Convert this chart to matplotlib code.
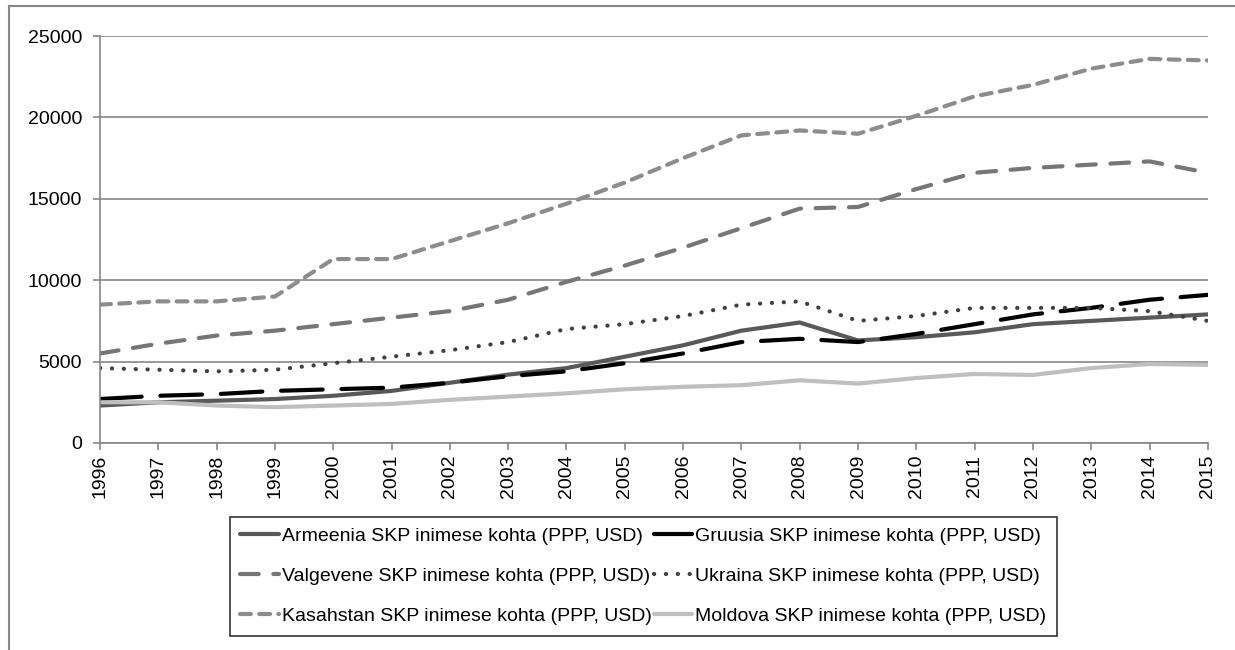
import matplotlib.pyplot as plt
from matplotlib.lines import Line2D

years = list(range(1996, 2016))

armeenia = [2300, 2500, 2600, 2700, 2900, 3200, 3700, 4200, 4600, 5300,
            6000, 6900, 7400, 6300, 6500, 6800, 7300, 7500, 7700, 7900]
gruusia = [2700, 2900, 3000, 3200, 3300, 3400, 3700, 4100, 4400, 4900,
           5500, 6200, 6400, 6200, 6700, 7300, 7900, 8300, 8800, 9100]
valgevene = [5500, 6100, 6600, 6900, 7300, 7700, 8100, 8800, 9900, 10900,
             12000, 13200, 14400, 14500, 15600, 16600, 16900, 17100, 17300, 16600]
ukraina = [4600, 4500, 4400, 4500, 4900, 5300, 5700, 6200, 7000, 7300,
           7800, 8500, 8700, 7500, 7800, 8300, 8300, 8300, 8100, 7500]
kasahstan = [8500, 8700, 8700, 9000, 11300, 11300, 12400, 13500, 14700, 16000,
             17500, 18900, 19200, 19000, 20100, 21300, 22000, 23000, 23600, 23500]
moldova = [2500, 2500, 2300, 2200, 2300, 2400, 2650, 2850, 3050, 3300,
           3450, 3550, 3850, 3650, 3990, 4240, 4180, 4600, 4850, 4800]

suffix = " SKP inimese kohta (PPP, USD)"

plt.rcParams['font.family'] = ['Liberation Sans', 'DejaVu Sans']
fs = 14

fig = plt.figure(figsize=(12.35, 6.5), dpi=100)
ax = fig.add_axes([0.081, 0.3185, 0.897, 0.626])

lw = 3
l_arm, = ax.plot(years, armeenia, color='#595959', lw=lw, solid_capstyle='round',
                 label='Armeenia' + suffix)
l_gru, = ax.plot(years, gruusia, color='black', lw=lw, dashes=(10, 4.5),
                 dash_capstyle='round', label='Gruusia' + suffix)
l_val, = ax.plot(years, valgevene, color='#767676', lw=lw, dashes=(4.5, 3.5),
                 dash_capstyle='round', label='Valgevene' + suffix)
l_ukr, = ax.plot(years, ukraina, color='#404040', lw=lw, dashes=(0.05, 2.8),
                 dash_capstyle='round', label='Ukraina' + suffix)
l_kas, = ax.plot(years, kasahstan, color='#8c8c8c', lw=lw, dashes=(2.6, 2.0),
                 dash_capstyle='round', label='Kasahstan' + suffix)
l_mol, = ax.plot(years, moldova, color='#bfbfbf', lw=lw, solid_capstyle='round',
                 label='Moldova' + suffix)

ax.set_xlim(1996, 2015)
ax.set_ylim(0, 25000)
ax.set_yticks(range(0, 25001, 5000))
ax.set_xticks(years)
ax.set_xticklabels([str(y) for y in years], rotation=90)
ax.tick_params(axis='both', colors='#868686', labelcolor='black',
               labelsize=fs, length=5, width=1.2)
ax.tick_params(axis='y', pad=8)
ax.grid(axis='y', color='#868686', lw=1.2)
ax.set_axisbelow(True)
for s in ['top', 'right']:
    ax.spines[s].set_visible(False)
for s in ['left', 'bottom']:
    ax.spines[s].set_color('#868686')
    ax.spines[s].set_linewidth(1.2)

# legend fills row by row like the original: reorder for column-major layout
handles = [l_arm, l_val, l_kas, l_gru, l_ukr, l_mol]
leg = fig.legend(handles=handles, labels=[h.get_label() for h in handles],
                 loc='lower left', bbox_to_anchor=(0.186, 0.022, 0.67, 0.183),
                 mode='expand', ncol=2, fontsize=fs, frameon=True, fancybox=False,
                 handlelength=2.0, handletextpad=0.15, columnspacing=0.2,
                 labelspacing=1.15, borderaxespad=0, borderpad=0.55)
leg.get_frame().set_edgecolor('black')
leg.get_frame().set_linewidth(1.2)

# outer chart border (top and left edges visible)
fig.add_artist(Line2D([0.0073, 1.0], [0.9908, 0.9908], color='#868686', lw=1.5,
                      transform=fig.transFigure))
fig.add_artist(Line2D([0.0073, 0.0073], [0.0, 0.9908], color='#868686', lw=1.5,
                      transform=fig.transFigure))

fig.savefig('out.png', dpi=100)
